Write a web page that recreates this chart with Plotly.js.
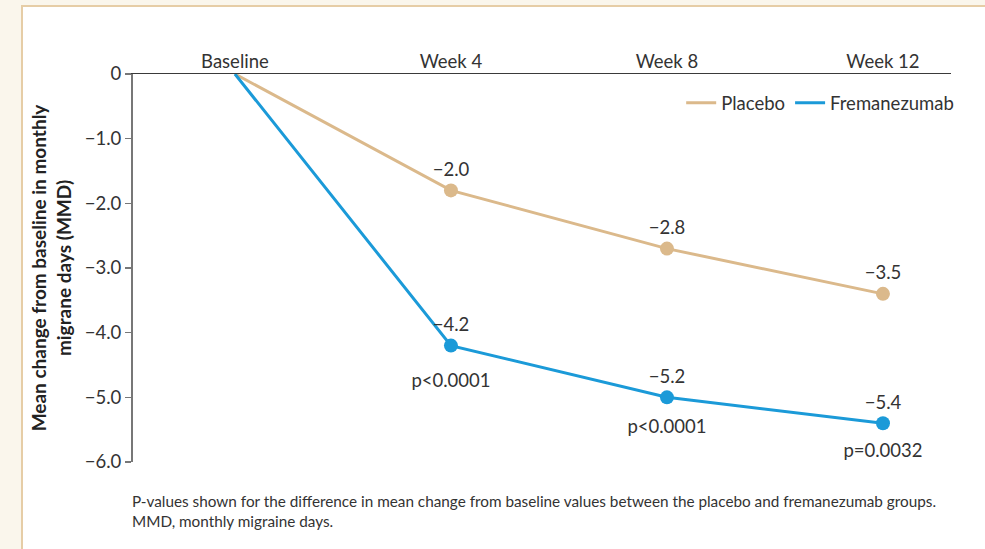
<!DOCTYPE html>
<html>
<head>
<meta charset="utf-8">
<script src="https://cdn.plot.ly/plotly-3.0.1.min.js"></script>
<style>
  html, body { margin: 0; padding: 0; background: #faf6ec; width: 985px; height: 549px; overflow: hidden; }
  #frame { position: absolute; left: 21px; top: 5px; width: 962px; height: 542px;
           border-left: 2px solid #e6cda6; border-top: 2px solid #e6cda6; background: #ffffff; }
  #chart { width: 962px; height: 542px; }
</style>
</head>
<body>
<div id="frame"><div id="chart"></div></div>
<script>
const timepoints = ["Baseline", "Week 4", "Week 8", "Week 12"];
const placeboValues = [0, -1.8, -2.7, -3.4];
const fremanezumabValues = [0, -4.2, -5.0, -5.4];
const placeboLabels = ["", "−2.0", "−2.8", "−3.5"];
const fremanezumabLabels = ["", "−4.2", "−5.2", "−5.4"];
const pValueLabels = ["", "p<0.0001", "p<0.0001", "p=0.0032"];
const yTickValues = [0, -1, -2, -3, -4, -5, -6];
const yTickLabels = ["0", "−1.0", "−2.0", "−3.0", "−4.0", "−5.0", "−6.0"];
const seriesNames = ["Placebo", "Fremanezumab"];

const placeboColor = "#dbb98b";
const fremColor = "#1b9ad8";
const textColor = "#333333";
const font = "Lato, 'Open Sans', sans-serif";
const fs = 18.5;

const traces = [
  {
    type: "scatter", mode: "lines+markers+text", showlegend: false,
    x: timepoints, y: placeboValues, text: placeboLabels,
    textposition: "top center",
    textfont: { family: font, size: fs, color: textColor },
    line: { color: placeboColor, width: 3 },
    marker: { color: placeboColor, size: [0, 14, 14, 14], opacity: 1, line: { width: 0 } },
    cliponaxis: false, hoverinfo: "skip"
  },
  {
    type: "scatter", mode: "lines+markers+text", showlegend: false,
    x: timepoints, y: fremanezumabValues, text: fremanezumabLabels,
    textposition: "top center",
    textfont: { family: font, size: fs, color: textColor },
    line: { color: fremColor, width: 3 },
    marker: { color: fremColor, size: [0, 14, 14, 14], opacity: 1, line: { width: 0 } },
    cliponaxis: false, hoverinfo: "skip"
  },
  {
    type: "scatter", mode: "markers+text", showlegend: false,
    x: timepoints, y: fremanezumabValues, text: pValueLabels,
    textposition: "bottom center",
    textfont: { family: font, size: fs, color: textColor },
    marker: { color: "rgba(0,0,0,0)", size: [0, 42, 34, 30], line: { width: 0 } },
    cliponaxis: false, hoverinfo: "skip"
  },
  {
    type: "scatter", mode: "lines", name: seriesNames[0],
    x: [null], y: [null], line: { color: placeboColor, width: 3 }
  },
  {
    type: "scatter", mode: "lines", name: seriesNames[1],
    x: [null], y: [null], line: { color: fremColor, width: 3 }
  }
];

const layout = {
  width: 962, height: 542,
  paper_bgcolor: "rgba(0,0,0,0)",
  plot_bgcolor: "rgba(0,0,0,0)",
  margin: { l: 110, r: 34, t: 67, b: 87 },
  font: { family: font, color: textColor },
  showlegend: true,
  legend: {
    orientation: "h", x: 1.01, xanchor: "right", y: 0.925, yanchor: "middle",
    font: { family: font, size: fs, color: textColor },
    bgcolor: "rgba(0,0,0,0)"
  },
  xaxis: {
    type: "category", side: "top",
    range: [-0.472, 3.315],
    showgrid: false, zeroline: false,
    showline: true, linecolor: "#3a3a3a", linewidth: 1.5,
    ticks: "", ticklabelstandoff: -3,
    tickfont: { family: font, size: fs, color: textColor }
  },
  yaxis: {
    range: [-6, 0],
    tickvals: yTickValues, ticktext: yTickLabels,
    showgrid: false, zeroline: false,
    showline: true, linecolor: "#777777", linewidth: 2,
    ticks: "outside", ticklen: 6, tickcolor: "#777777", tickwidth: 1.5,
    tickfont: { family: font, size: fs, color: textColor },
    title: {
      text: "<b>Mean change from baseline in monthly<br>migrane days (MMD)</b>",
      font: { family: font, size: 19, color: "#222222" },
      standoff: 8
    }
  },
  annotations: [
    {
      xref: "paper", yref: "paper", x: -0.004, y: -0.071,
      xanchor: "left", yanchor: "top", align: "left", showarrow: false,
      text: "P-values shown for the difference in mean change from baseline values between the placebo and fremanezumab groups.<br>MMD, monthly migraine days.",
      font: { family: font, size: 15.3, color: textColor }
    }
  ]
};

Plotly.newPlot("chart", traces, layout, { displayModeBar: false, staticPlot: true });
</script>
</body>
</html>
